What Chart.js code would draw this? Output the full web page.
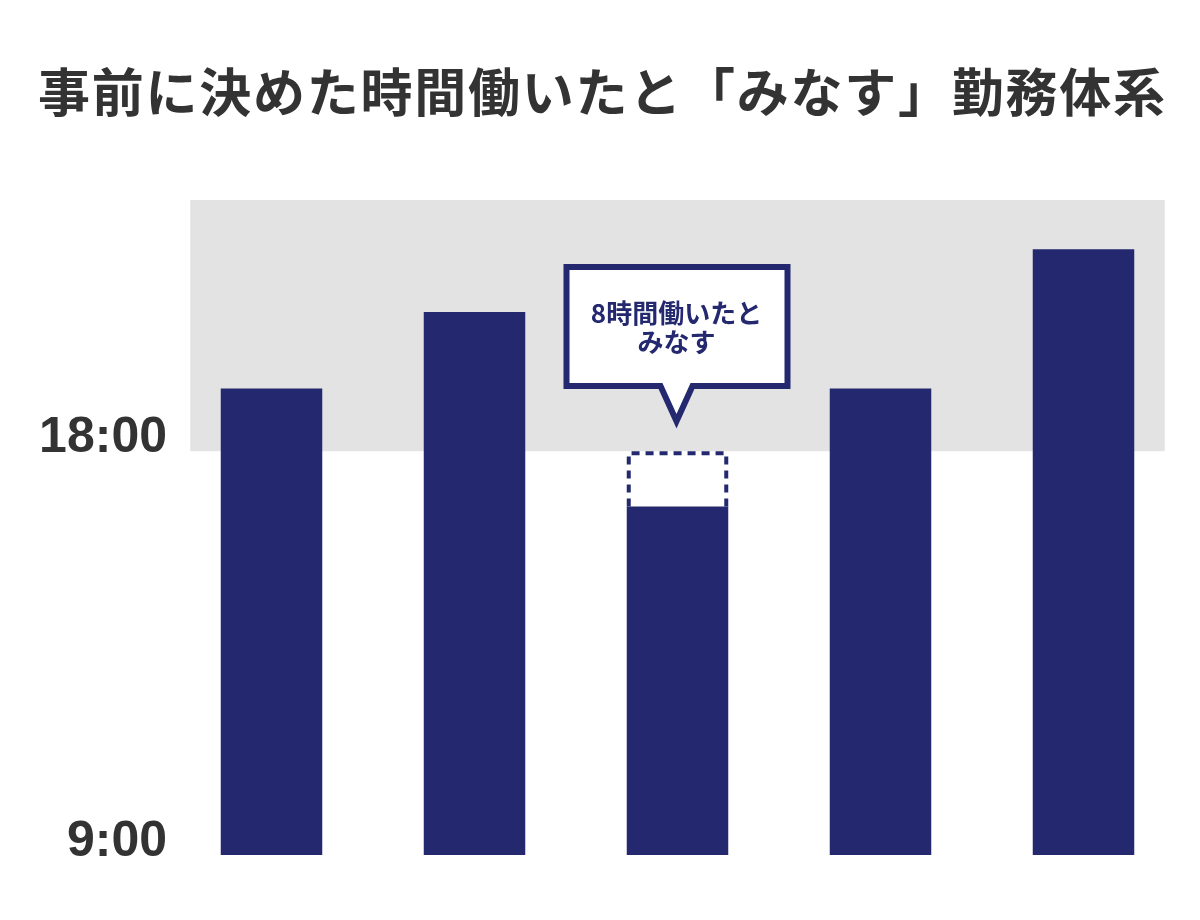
<!DOCTYPE html>
<html>
<head>
<meta charset="utf-8">
<script src="https://cdn.jsdelivr.net/npm/chart.js@4/dist/chart.umd.min.js"></script>
<style>
  html, body { margin: 0; padding: 0; background: #ffffff; }
  #wrap { width: 1200px; height: 920px; position: relative; }
</style>
</head>
<body>
<div id="wrap"><canvas id="c" width="1200" height="920"></canvas></div>
<script>
// ---- data ----
const titleText = '事前に決めた時間働いたと「みなす」勤務体系';
const categories = ['1', '2', '3', '4', '5'];
const endTimes = [19.4, 21.1, 16.77, 19.4, 22.5];   // hours (9 = 9:00)
const startTime = 9;
const deemedEnd = 18;            // deemed end time for bar 3
const deemedIndex = 2;
const tickValues = [9, 18];
const tickLabels = ['9:00', '18:00'];
const bandRange = [18, 23.6];    // grey overtime band
const calloutLines = ['8時間働いたと', 'みなす'];

const NAVY = '#23286f';
const GREY = '#e3e3e3';
const TEXT = '#333333';

const decor = {
  id: 'decor',
  beforeDatasetsDraw(chart) {
    const { ctx, scales: { x, y } } = chart;
    ctx.save();
    const x0 = x.getPixelForValue(-0.4), x1 = x.getPixelForValue(categories.length - 1 + 0.4);
    const yb = y.getPixelForValue(bandRange[0]), yt = y.getPixelForValue(bandRange[1]);
    ctx.fillStyle = GREY;
    ctx.fillRect(x0, yt, x1 - x0, yb - yt);
    ctx.restore();
  },
  afterDatasetsDraw(chart) {
    const { ctx, scales: { x, y } } = chart;
    const meta = chart.getDatasetMeta(0);
    const bar = meta.data[deemedIndex];
    const half = bar.width / 2;
    ctx.save();
    // dashed deemed box
    const top = y.getPixelForValue(deemedEnd);
    const barTop = y.getPixelForValue(endTimes[deemedIndex]);
    const lw = 4;
    ctx.strokeStyle = NAVY;
    ctx.lineWidth = lw;
    ctx.setLineDash([8, 6]);
    ctx.beginPath();
    ctx.moveTo(bar.x - half + lw / 2, barTop);
    ctx.lineTo(bar.x - half + lw / 2, top + lw / 2);
    ctx.lineTo(bar.x + half - lw / 2, top + lw / 2);
    ctx.lineTo(bar.x + half - lw / 2, barTop);
    ctx.stroke();
    ctx.setLineDash([]);

    // callout
    const tipY = top - 30;
    const cx = bar.x - 1;
    const bx0 = cx - 110, bx1 = cx + 111, by0 = 267, by1 = 386;
    const pw = 16, ph = tipY - by1;
    ctx.lineWidth = 6;
    ctx.lineJoin = 'miter';
    ctx.fillStyle = '#ffffff';
    ctx.beginPath();
    ctx.moveTo(bx0, by0);
    ctx.lineTo(bx1, by0);
    ctx.lineTo(bx1, by1);
    ctx.lineTo(cx + pw, by1);
    ctx.lineTo(cx, by1 + ph);
    ctx.lineTo(cx - pw, by1);
    ctx.lineTo(bx0, by1);
    ctx.closePath();
    ctx.fill();
    ctx.stroke();
    ctx.fillStyle = NAVY;
    ctx.font = 'bold 26px "Noto Sans CJK JP"';
    ctx.textAlign = 'center';
    ctx.textBaseline = 'middle';
    ctx.fillText(calloutLines[0], cx, 313);
    ctx.fillText(calloutLines[1], cx, 342);

    // y tick labels
    ctx.fillStyle = TEXT;
    ctx.font = 'bold 50px "Liberation Sans", Arial, sans-serif';
    ctx.textAlign = 'right';
    ctx.textBaseline = 'alphabetic';
    tickValues.forEach((v, i) => {
      ctx.fillText(tickLabels[i], 167, y.getPixelForValue(v) + 1);
    });

    // title
    ctx.font = 'bold 52px "Noto Sans CJK JP"';
    ctx.textAlign = 'left';
    ctx.textBaseline = 'middle';
    const w = ctx.measureText(titleText).width;
    const target = 1127;
    const ls = (target - w) / (titleText.length - 1);
    if ('letterSpacing' in ctx) ctx.letterSpacing = ls + 'px';
    ctx.fillText(titleText, 38, 92);
    ctx.restore();
  }
};

new Chart(document.getElementById('c'), {
  type: 'bar',
  data: {
    labels: categories,
    datasets: [{
      data: endTimes,
      backgroundColor: NAVY,
      borderWidth: 0,
      barPercentage: 0.5,
      categoryPercentage: 1.0
    }]
  },
  options: {
    responsive: false,
    animation: false,
    layout: { padding: { left: 170, right: 15, top: 182, bottom: 65 } },
    plugins: { legend: { display: false }, tooltip: { enabled: false }, title: { display: false } },
    scales: {
      x: { display: false, offset: true },
      y: { display: false, min: startTime, max: 24 }
    }
  },
  plugins: [decor]
});
</script>
</body>
</html>
